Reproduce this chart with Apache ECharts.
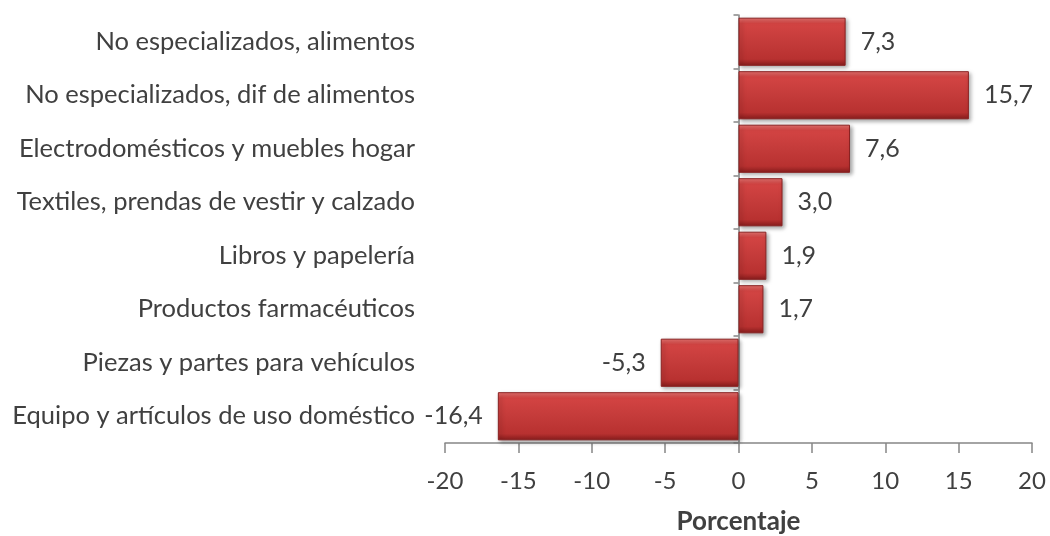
<!DOCTYPE html>
<html>
<head>
<meta charset="utf-8">
<script src="https://cdn.jsdelivr.net/npm/echarts@6/dist/echarts.min.js"></script>
<style>
  html, body { margin: 0; padding: 0; background: #fff; }
  #chart { width: 1050px; height: 536px; }
</style>
</head>
<body>
<div id="chart"></div>
<script>
var categories = [
    'No especializados, alimentos',
    'No especializados, dif de alimentos',
    'Electrodomésticos y muebles hogar',
    'Textiles, prendas de vestir y calzado',
    'Libros y papelería',
    'Productos farmacéuticos',
    'Piezas y partes para vehículos',
    'Equipo y artículos de uso doméstico'
];
var values = [7.3, 15.7, 7.6, 3.0, 1.9, 1.7, -5.3, -16.4];
var axisTitle = 'Porcentaje';

var textColor = '#404040';
var fontFam = 'Lato, "Open Sans", sans-serif';

// bar fill with a bevel look
var barFill = new echarts.graphic.LinearGradient(0, 0, 0, 1, [
    {offset: 0, color: '#e87471'},
    {offset: 0.12, color: '#d34443'},
    {offset: 0.5, color: '#c43b3a'},
    {offset: 0.86, color: '#b83130'},
    {offset: 1, color: '#861c1c'}
]);

var option = {
    animation: false,
    grid: {
        left: 445,
        right: 18,
        top: 15,
        bottom: 93,
        containLabel: false,
        outerBoundsMode: 'none'
    },
    xAxis: {
        type: 'value',
        min: -20,
        max: 20,
        interval: 5,
        name: axisTitle,
        nameLocation: 'middle',
        nameGap: 66,
        nameTextStyle: {
            color: textColor,
            fontFamily: fontFam,
            fontSize: 26,
            fontWeight: 'bold'
        },
        splitLine: {show: false},
        axisLine: {show: true, onZero: false, lineStyle: {color: '#868686', width: 1.5}},
        axisTick: {show: true, length: 10, lineStyle: {color: '#868686', width: 1.5}},
        axisLabel: {
            color: textColor,
            fontFamily: fontFam,
            fontSize: 24,
            margin: 26
        }
    },
    yAxis: [
        {
            // labels only, at the left of the grid
            type: 'category',
            data: categories,
            inverse: true,
            position: 'left',
            axisLine: {show: false, onZero: false},
            axisTick: {show: false},
            axisLabel: {
                color: textColor,
                fontFamily: fontFam,
                fontSize: 25.5,
                margin: 30
            }
        },
        {
            // axis line sitting on zero
            type: 'category',
            data: categories,
            inverse: true,
            position: 'left',
            axisLine: {show: true, onZero: true, lineStyle: {color: '#868686', width: 1.5}},
            axisTick: {show: true, length: 5, lineStyle: {color: '#868686', width: 1.5}},
            axisLabel: {show: false}
        }
    ],
    series: [
        {
            type: 'bar',
            yAxisIndex: 0,
            barCategoryGap: '10%',
            itemStyle: {
                color: barFill,
                borderColor: '#8a2222',
                borderWidth: 1,
                shadowColor: 'rgba(0,0,0,0.35)',
                shadowBlur: 4,
                shadowOffsetX: 2,
                shadowOffsetY: 2
            },
            label: {
                show: true,
                color: textColor,
                fontFamily: fontFam,
                fontSize: 25,
                distance: 15,
                formatter: function (p) {
                    return p.value.toFixed(1).replace('.', ',');
                }
            },
            // negative bars get their label on the left
            data: values.map(function (v) {
                return {
                    value: v,
                    label: {position: v < 0 ? 'left' : 'right'}
                };
            })
        }
    ]
};

var chart = echarts.init(document.getElementById('chart'));
chart.setOption(option);
</script>
</body>
</html>
